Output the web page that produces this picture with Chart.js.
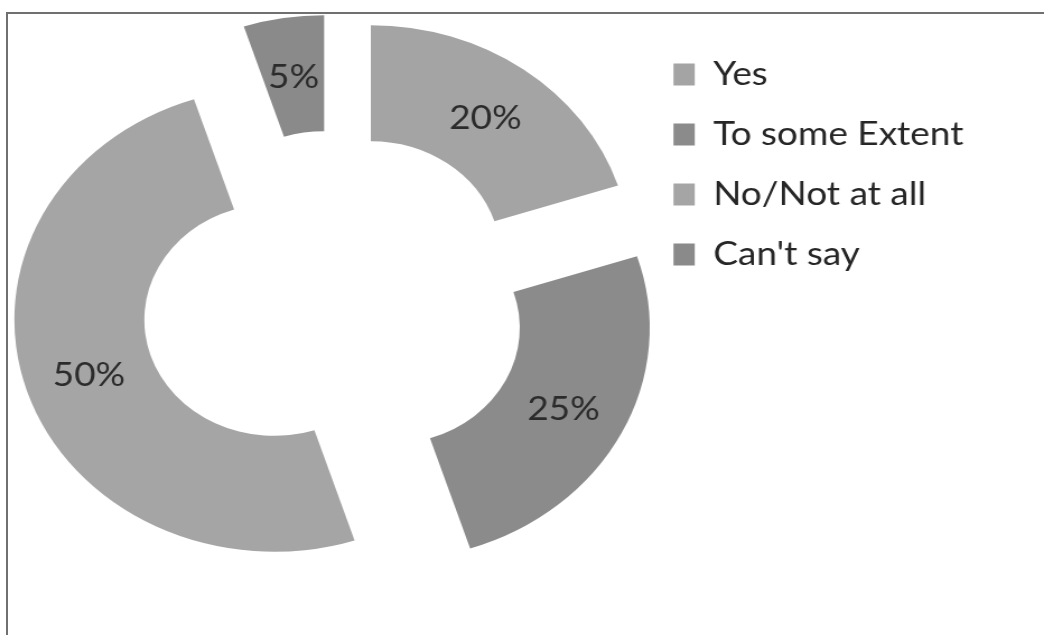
<!DOCTYPE html>
<html>
<head>
<meta charset="utf-8">
<title>Survey responses</title>
<script src="https://cdn.jsdelivr.net/npm/chart.js@4.4.1/dist/chart.umd.min.js"></script>
<style>
  html, body { margin: 0; padding: 0; background: #ffffff; overflow: hidden; }
  #frame {
    position: absolute; left: 6px; top: 12px; width: 1100px; height: 700px;
    border-left: 2px solid #707070; border-top: 2px solid #707070;
  }
  /* the chart is drawn narrow and stretched sideways, like the printed figure */
  #stretch {
    position: absolute; left: 0; top: 0; width: 932px; height: 635px;
    transform: scaleX(1.1202); transform-origin: 0 0;
  }
</style>
</head>
<body>
<div id="frame"></div>
<div id="stretch"><canvas id="myChart"></canvas></div>
<script>
const categories = ['Yes', 'To some Extent', 'No/Not at all', "Can't say"];
const shares = [20, 25, 50, 5];
const sliceColors = ['#a4a4a4', '#8b8b8b', '#a5a5a5', '#8a8a8a'];

const explodeBy = 56;   // every slice is pulled out from the centre by this much
const labelFont = '33px Lato';

// shifts each arc along its own bisector, then writes the percentages on top
const explodedSlices = {
    id: 'explodedSlices',
    beforeDatasetDraw(chart, args) {
        const ctx = chart.ctx;
        args.meta.data.forEach(function (arc) {
            const mid = (arc.startAngle + arc.endAngle) / 2;
            ctx.save();
            ctx.translate(Math.cos(mid) * explodeBy, Math.sin(mid) * explodeBy);
            arc.draw(ctx);
            ctx.restore();
        });
        return false;
    },
    afterDatasetsDraw(chart) {
        const ctx = chart.ctx;
        const meta = chart.getDatasetMeta(0);
        ctx.save();
        ctx.font = labelFont;
        ctx.fillStyle = '#2b2b2b';
        ctx.textAlign = 'center';
        ctx.textBaseline = 'middle';
        meta.data.forEach(function (arc, i) {
            const mid = (arc.startAngle + arc.endAngle) / 2;
            const p = arc.tooltipPosition();
            ctx.fillText(shares[i] + '%',
                p.x + Math.cos(mid) * explodeBy,
                p.y + Math.sin(mid) * explodeBy + 2);
        });
        ctx.restore();
    }
};

const ctx = document.getElementById('myChart').getContext('2d');
new Chart(ctx, {
    type: 'doughnut',
    data: {
        labels: categories,
        datasets: [{
            data: shares,
            backgroundColor: sliceColors,
            borderWidth: 0
        }]
    },
    options: {
        responsive: true,
        maintainAspectRatio: false,
        animation: false,
        events: [],
        radius: 232,
        cutout: '50%',
        layout: {
            padding: { left: 22, top: 31, right: 62, bottom: 61 }
        },
        plugins: {
            tooltip: { enabled: false },
            legend: {
                display: true,
                position: 'right',
                align: 'start',
                labels: {
                    color: '#262626',
                    font: { family: 'Lato', size: 33 },
                    boxWidth: 19,
                    boxHeight: 22,
                    padding: 27
                }
            }
        }
    },
    plugins: [explodedSlices]
});
</script>
</body>
</html>
